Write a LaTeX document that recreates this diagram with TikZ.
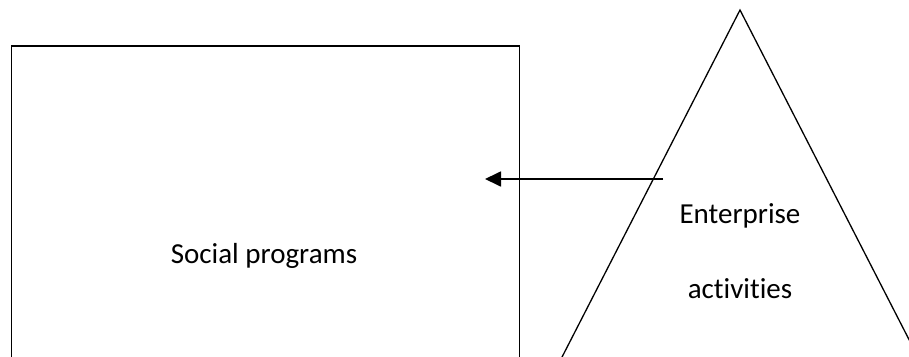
\documentclass[tikz,border=0pt]{standalone}
\usepackage{fontspec}
\setmainfont{Carlito}[Ligatures=CommonOff]
\usetikzlibrary{arrows.meta}
\begin{document}
\begin{tikzpicture}[x=1pt,y=-1pt,
  label text/.style={font=\fontsize{29}{34}\selectfont, anchor=base, inner sep=0pt},
  frame/.style={draw=black, line width=1.6pt},
  peak/.style={draw=black, line width=1.3pt},
  flow/.style={draw=black, line width=1.8pt, -{Triangle[length=16pt,width=15pt]}}]
  \useasboundingbox (0,0) rectangle (909,356);
  \clip (0,0) rectangle (909,356);
  % box for the social programs (its lower edge runs off the page)
  \node[frame, minimum width=508pt, minimum height=340pt, anchor=north west, inner sep=0pt]
    (box) at (10.5,45) {};
  \node[label text] (social) at (264,263) {Social programs};
  % triangle for the enterprise activities
  \coordinate (apex) at (740,10);
  \coordinate (baseL) at (540,400);
  \coordinate (baseR) at (940,400);
  \draw[peak] (baseL) -- (apex) -- (baseR);
  \node[label text] (ent) at (740,223) {Enterprise};
  \node[label text] (act) at (740,298) {activities};
  % flow from the triangle into the box
  \coordinate (src) at (663,179);
  \coordinate (dst) at (485,179);
  \draw[flow] (src) -- (dst);
\end{tikzpicture}
\end{document}
